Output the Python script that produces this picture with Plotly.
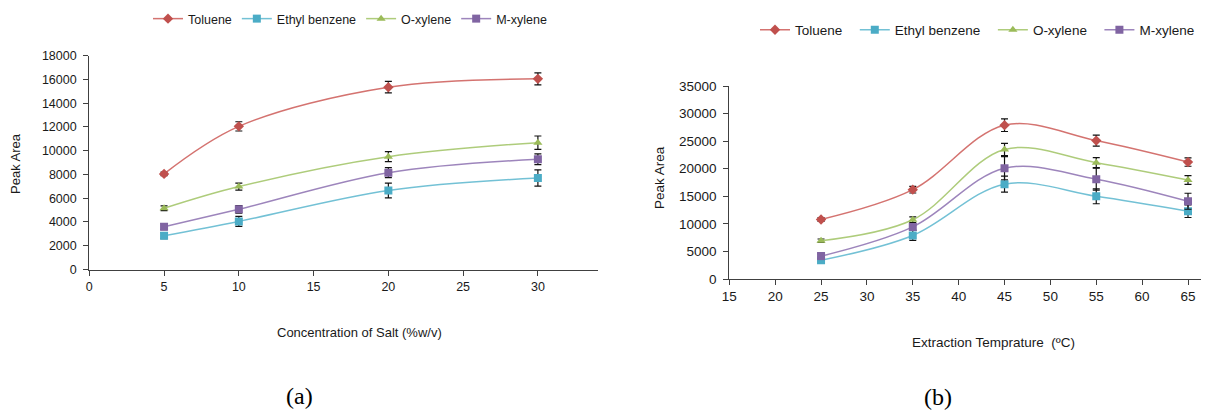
import plotly.graph_objects as go

# page body has an 8px default margin -> figure is sized to fit inside the viewport
PAGE_W, PAGE_H, BODY_M = 1209, 418, 8
W, H = PAGE_W - 2 * BODY_M, PAGE_H - 2 * BODY_M

# ---------------- data ----------------
series_names = ["Toluene", "Ethyl benzene", "O-xylene", "M-xylene"]

salt_conc = [5, 10, 20, 30]
a_toluene = [8050, 12050, 15350, 16050]
a_toluene_err = [150, 390, 480, 500]
a_ethylbenzene = [2850, 4050, 6650, 7700]
a_ethylbenzene_err = [250, 420, 620, 680]
a_oxylene = [5150, 6980, 9500, 10680]
a_oxylene_err = [200, 300, 420, 560]
a_mxylene = [3600, 5070, 8150, 9280]
a_mxylene_err = [250, 320, 420, 450]

temperature = [25, 35, 45, 55, 65]
b_toluene = [10800, 16200, 27900, 25100, 21200]
b_toluene_err = [350, 600, 1150, 1000, 750]
b_ethylbenzene = [3400, 7900, 17200, 15000, 12300]
b_ethylbenzene_err = [300, 900, 1450, 1350, 1150]
b_oxylene = [6950, 10750, 23500, 21100, 17950]
b_oxylene_err = [300, 500, 1100, 900, 800]
b_mxylene = [4150, 9450, 20100, 18100, 14100]
b_mxylene_err = [400, 600, 2100, 2000, 1450]

# ---------------- styles ----------------
marker_colors = ["#C0504D", "#4BACC6", "#9BBB59", "#8064A2"]
line_colors = ["rgba(205,90,87,0.85)", "rgba(90,182,206,0.85)",
               "rgba(160,195,100,0.85)", "rgba(140,112,176,0.85)"]
symbols = ["diamond", "square", "triangle-up", "square"]
sizes = [8, 8, 8, 8]
NB = "\u00a0"
legend2_pad = [NB * 2, NB * 2, NB * 2, ""]

FONT = "Liberation Sans, Arial, sans-serif"
SERIF = "Liberation Serif, Times New Roman, serif"
AX = "#404040"
TXT = "#1a1a1a"

fig = go.Figure()

a_vals = [a_toluene, a_ethylbenzene, a_oxylene, a_mxylene]
a_errs = [a_toluene_err, a_ethylbenzene_err, a_oxylene_err, a_mxylene_err]
b_vals = [b_toluene, b_ethylbenzene, b_oxylene, b_mxylene]
b_errs = [b_toluene_err, b_ethylbenzene_err, b_oxylene_err, b_mxylene_err]

for i, name in enumerate(series_names):
    fig.add_trace(go.Scatter(
        x=salt_conc, y=a_vals[i], name=name, mode="lines+markers",
        line=dict(color=line_colors[i], width=1.5, shape="spline", smoothing=1.0),
        marker=dict(color=marker_colors[i], symbol=symbols[i], size=sizes[i]),
        error_y=dict(type="data", array=a_errs[i], color="#111111", thickness=1.2, width=3.5),
        xaxis="x", yaxis="y", legend="legend",
    ))
for i, name in enumerate(series_names):
    fig.add_trace(go.Scatter(
        x=temperature, y=b_vals[i], name=name + legend2_pad[i], mode="lines+markers",
        line=dict(color=line_colors[i], width=1.5, shape="spline", smoothing=1.0),
        marker=dict(color=marker_colors[i], symbol=symbols[i], size=sizes[i]),
        error_y=dict(type="data", array=b_errs[i], color="#111111", thickness=1.2, width=3.5),
        xaxis="x2", yaxis="y2", legend="legend2",
    ))

def px_x(p):
    return (p - BODY_M) / W

def px_y(p):
    return 1 - (p - BODY_M) / H

common_axis = dict(showgrid=False, zeroline=False, showline=True, linecolor=AX, linewidth=1.2,
                   ticks="outside", ticklen=5, tickcolor=AX, tickwidth=1.2,
                   automargin=False, tickformat="d")

x2_right_px = PAGE_W - BODY_M
x2_end = 15 + (x2_right_px - 729.3) / ((1188.0 - 729.3) / 50.0)

fig.update_layout(
    width=W, height=H,
    margin=dict(l=0, r=0, t=0, b=0, autoexpand=False),
    paper_bgcolor="white", plot_bgcolor="white",
    font=dict(family=FONT, color=TXT),
    xaxis=dict(domain=[px_x(89.3), px_x(597.7)], range=[0, 34], dtick=5, tick0=0,
               anchor="y", tickfont=dict(size=12.5), **common_axis),
    yaxis=dict(domain=[px_y(269.5), px_y(55.7)], range=[0, 18000], dtick=2000,
               anchor="x", tickfont=dict(size=12.5), ticklabelstandoff=4, **common_axis),
    xaxis2=dict(domain=[px_x(729.3), 1.0], range=[15, x2_end], dtick=5, tick0=15,
                anchor="y2", tickfont=dict(size=13.5), **common_axis),
    yaxis2=dict(domain=[px_y(279), px_y(86)], range=[0, 35000], dtick=5000,
                anchor="x2", tickfont=dict(size=13.5), ticklabelstandoff=4, **common_axis),
    legend=dict(orientation="h", x=px_x(148), xanchor="left", y=px_y(19), yanchor="middle",
                font=dict(size=12.5, family=FONT, color=TXT), bgcolor="rgba(0,0,0,0)"),
    legend2=dict(orientation="h", x=px_x(755), xanchor="left", y=px_y(30), yanchor="middle",
                 font=dict(size=13.5, family=FONT, color=TXT), bgcolor="rgba(0,0,0,0)"),
    showlegend=True,
)

annotations = [
    dict(text="Peak Area", x=px_x(15), y=px_y(164), textangle=-90, font=dict(size=13)),
    dict(text="Peak Area", x=px_x(660), y=px_y(178), textangle=-90, font=dict(size=13.5)),
    dict(text="Concentration of Salt (%w/v)", x=px_x(360), y=px_y(332), font=dict(size=13)),
    dict(text="Extraction Temprature\u00a0\u00a0(\u00baC)", x=px_x(993), y=px_y(342), font=dict(size=13.5)),
    dict(text="(a)", x=px_x(299), y=px_y(396), font=dict(size=24, family=SERIF, color="black")),
    dict(text="(b)", x=px_x(938), y=px_y(397), font=dict(size=24, family=SERIF, color="black")),
]
for a in annotations:
    a.update(xref="paper", yref="paper", showarrow=False, xanchor="center", yanchor="middle")
    fig.add_annotation(**a)

fig.write_html("out.html")
